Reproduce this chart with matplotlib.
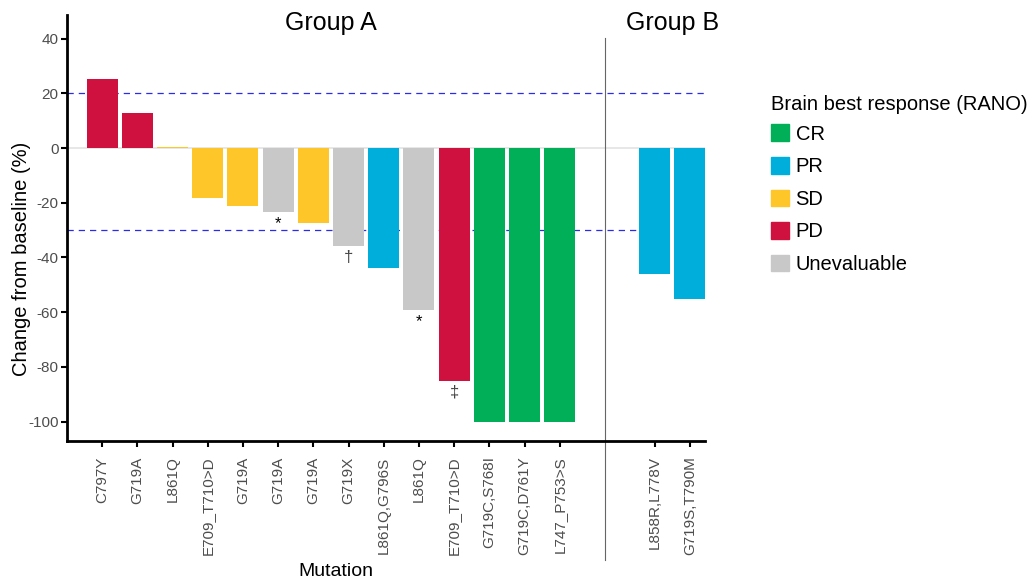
import matplotlib.pyplot as plt
from matplotlib.patches import Patch
from matplotlib.transforms import blended_transform_factory

plt.rcParams['font.family'] = ['Liberation Sans', 'DejaVu Sans']
plt.rcParams['axes.unicode_minus'] = False

# waterfall data: one bar per patient
mutations_a = ["C797Y", "G719A", "L861Q", "E709_T710>D", "G719A", "G719A", "G719A",
               "G719X", "L861Q,G796S", "L861Q", "E709_T710>D", "G719C,S768I",
               "G719C,D761Y", "L747_P753>S"]
change_a = [25.4, 12.7, 0.4, -18.2, -21.1, -23.5, -27.5, -35.9, -44.0, -59.3, -85.1,
            -100, -100, -100]
response_a = ["PD", "PD", "SD", "SD", "SD", "UE", "SD", "UE", "PR", "UE", "PD",
              "CR", "CR", "CR"]
marks_a = ["", "", "", "", "", "*", "", "\u2020", "", "*", "\u2021", "", "", ""]

mutations_b = ["L858R,L778V", "G719S,T790M"]
change_b = [-45.9, -55.1]
response_b = ["PR", "PR"]

colors = {"CR": "#00AF57", "PR": "#00AEDB", "SD": "#FFC629",
          "PD": "#CF1140", "UE": "#C8C8C8"}
legend_labels = [("CR", "CR"), ("PR", "PR"), ("SD", "SD"), ("PD", "PD"),
                 ("UE", "Unevaluable")]

pos_a = list(range(1, len(mutations_a) + 1))
pos_b = [16.7, 17.7]
sep_x = 15.3

fig = plt.figure(figsize=(10.34, 5.81), dpi=100)
ax = fig.add_axes([0.0648, 0.241, 0.6174, 0.733])

ax.axhline(0, color="#E3E3E3", lw=1.2, zorder=0)
for lvl in (20, -30):
    ax.axhline(lvl, color="#2B2BF0", lw=0.9, ls=(0, (5, 4)), zorder=0.5)

ax.bar(pos_a, change_a, width=0.88, color=[colors[r] for r in response_a], zorder=1)
ax.bar(pos_b, change_b, width=0.88, color=[colors[r] for r in response_b], zorder=1)

for x, v, m in zip(pos_a, change_a, marks_a):
    if m:
        col = "black" if m == "*" else "#444444"
        ax.text(x, v - 1.5, m, ha="center", va="top", fontsize=12, color=col)

ax.set_xlim(0, 18.14)
ax.set_ylim(-107.1, 48.6)
ax.set_yticks([40, 20, 0, -20, -40, -60, -80, -100])
ax.set_xticks(pos_a + pos_b)
ax.set_xticklabels(mutations_a + mutations_b, rotation=90, fontsize=11,
                   color="#4D4D4D")
ax.tick_params(axis="y", labelsize=11, labelcolor="#4D4D4D", length=4, width=1.5,
               pad=2)
ax.tick_params(axis="x", length=4, width=1.5, pad=7)

for s in ("top", "right"):
    ax.spines[s].set_visible(False)
for s in ("left", "bottom"):
    ax.spines[s].set_linewidth(2)

# separator between the two groups
trans = blended_transform_factory(ax.transData, ax.transAxes)
ax.plot([sep_x, sep_x], [0.946, -0.279], transform=trans, color="#666666",
        lw=0.8, clip_on=False)

ax.set_ylabel("Change from baseline (%)", fontsize=14.5, va="center")
ax.yaxis.set_label_coords(-0.0705, 0.427)
ax.set_xlabel("Mutation", fontsize=14, va="center")
ax.xaxis.set_label_coords(0.421, -0.307)

ax.text(7.5, 0.981, "Group A", transform=trans, ha="center", va="center",
        fontsize=18)
ax.text(17.2, 0.981, "Group B", transform=trans, ha="center", va="center",
        fontsize=18)

handles = [Patch(color=colors[k], label=lab) for k, lab in legend_labels]
fig.legend(handles=handles, loc="upper left", bbox_to_anchor=(0.746, 0.786),
           frameon=False, fontsize=14.5, handlelength=0.9, handleheight=0.9,
           labelspacing=0.66, handletextpad=0.3, borderpad=0, borderaxespad=0)
fig.text(0.746, 1 - 105 / 581, "Brain best response (RANO)", fontsize=14.5,
         ha="left", va="center")

fig.savefig("out.png", dpi=100)
